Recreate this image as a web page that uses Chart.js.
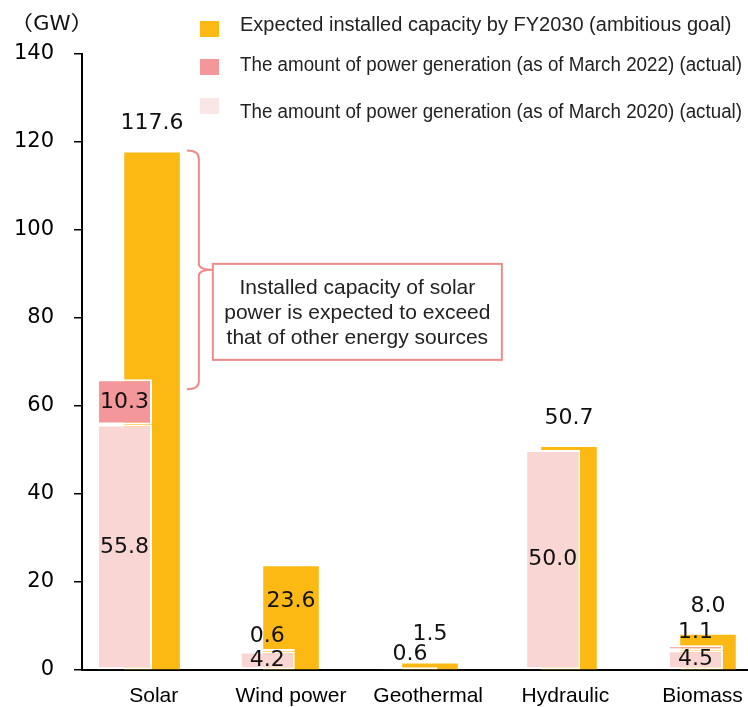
<!DOCTYPE html>
<html>
<head>
<meta charset="utf-8">
<script src="https://cdn.jsdelivr.net/npm/chart.js@4/dist/chart.umd.min.js"></script>
<style>
html,body{margin:0;padding:0;background:#fff;}
#wrap{width:748px;height:707px;position:relative;}
</style>
</head>
<body>
<div id="wrap"><canvas id="c"></canvas></div>
<script>
// ---- data ----
const categories = ['Solar', 'Wind power', 'Geothermal', 'Hydraulic', 'Biomass'];
const fy2030Goal = [117.6, 23.6, 1.5, 50.7, 8.0];
const actualMar2020 = [55.8, 4.2, 0.6, 50.0, 4.5];
const increaseMar2022 = [10.3, 0.6, null, null, 1.1];
const yTickValues = [0, 20, 40, 60, 80, 100, 120, 140];
const goalLabel = 'Expected installed capacity by FY2030 (ambitious goal)';
const mar2022Label = 'The amount of power generation (as of March 2022) (actual)';
const mar2020Label = 'The amount of power generation (as of March 2020) (actual)';
const unitLabel = '（GW）';
const noteLines = ['Installed capacity of solar', 'power is expected to exceed', 'that of other energy sources'];

// ---- styles ----
const COLOR_GOAL = '#FDB913';
const COLOR_2022 = '#F3979A';
const COLOR_2020 = '#F9D5D4';
const NOTE_COLOR = '#EE8B8B';

const toPoints = arr => arr.map((v, i) => ({ x: i, y: v }));
const categoryTicks = s => { s.ticks = categories.map((_, i) => ({ value: i })); };

const overlayPlugin = {
  id: 'overlay',
  afterDatasetsDraw(chart) {
    const ctx = chart.ctx;
    ctx.save();
    // data labels
    ctx.font = '22px "DejaVu Sans"';
    ctx.fillStyle = '#111';
    ctx.textAlign = 'center';
    ctx.textBaseline = 'middle';
    chart.data.datasets.forEach((ds, di) => {
      const meta = chart.getDatasetMeta(di);
      meta.data.forEach((el, j) => {
        const v = ds.data[j].y;
        if (v === null || v === undefined) return;
        const txt = v.toFixed(1);
        let y;
        if (ds.stack === 'goal') {
          y = ds.insideLabels.includes(categories[j]) ? el.y + 35 : el.y - 29;
        } else {
          const h = el.base - el.y;
          y = h < 15 ? el.y - 13 : (el.y + el.base) / 2;
        }
        ctx.fillText(txt, el.x, y);
      });
    });

    // brace + note box, anchored to the solar bars
    const goalEl = chart.getDatasetMeta(2).data[0];
    const stackTop = chart.getDatasetMeta(1).data[0];
    const x0 = goalEl.x + goalEl.width / 2 + 7;
    const xm = x0 + 12;
    const xt = xm + 14;
    const top = goalEl.y - 2;
    const bottom = stackTop.y + 10;
    const mid = (top + bottom) / 2;
    ctx.strokeStyle = NOTE_COLOR;
    ctx.lineWidth = 2;
    ctx.beginPath();
    ctx.moveTo(x0, top);
    ctx.quadraticCurveTo(xm, top, xm, top + 8);
    ctx.lineTo(xm, mid - 6);
    ctx.quadraticCurveTo(xm, mid, xt, mid);
    ctx.quadraticCurveTo(xm, mid, xm, mid + 6);
    ctx.lineTo(xm, bottom - 8);
    ctx.quadraticCurveTo(xm, bottom, x0, bottom);
    ctx.stroke();

    const bx = xt, by = mid - 6, bw = 289, bh = 96;
    ctx.fillStyle = '#fff';
    ctx.fillRect(bx, by, bw, bh);
    ctx.strokeRect(bx, by, bw, bh);
    ctx.fillStyle = '#222';
    ctx.font = '21px "Liberation Sans", Arial, sans-serif';
    noteLines.forEach((t, k) => ctx.fillText(t, bx + bw / 2, by + 24 + k * 25));

    // legend
    const legendRows = [
      { ds: 2, sq: 21, ty: 25 },
      { ds: 1, sq: 59, ty: 65 },
      { ds: 0, sq: 98, ty: 112 }
    ];
    ctx.font = '20px "Liberation Sans", Arial, sans-serif';
    ctx.textAlign = 'left';
    legendRows.forEach(r => {
      const ds = chart.data.datasets[r.ds];
      ctx.fillStyle = ds.legendColor || ds.backgroundColor;
      ctx.fillRect(200, r.sq, 19, 16);
      ctx.fillStyle = '#222';
      ctx.fillText(ds.label, 240, r.ty, 502);
    });

    // unit (slightly widened, like the original)
    ctx.font = '20px "Noto Sans CJK JP", sans-serif';
    ctx.fillStyle = '#111';
    ctx.translate(9, 22);
    ctx.scale(1.2, 1);
    ctx.fillText(unitLabel, 0, 0);
    ctx.restore();
  }
};

new Chart(document.getElementById('c'), {
  type: 'bar',
  data: {
    datasets: [
      {
        label: mar2020Label,
        data: toPoints(actualMar2020),
        xAxisID: 'xa',
        stack: 'actual',
        order: 0,
        grouped: false,
        backgroundColor: COLOR_2020,
        legendColor: '#FBE6E6',
        borderColor: '#fff',
        borderWidth: 2,
        borderSkipped: false,
        barPercentage: 0.385,
        categoryPercentage: 1
      },
      {
        label: mar2022Label,
        data: toPoints(increaseMar2022),
        xAxisID: 'xa',
        stack: 'actual',
        order: 1,
        grouped: false,
        backgroundColor: COLOR_2022,
        borderColor: '#fff',
        borderWidth: 2,
        borderSkipped: false,
        barPercentage: 0.385,
        categoryPercentage: 1
      },
      {
        label: goalLabel,
        data: toPoints(fy2030Goal),
        xAxisID: 'x',
        stack: 'goal',
        order: 2,
        grouped: false,
        backgroundColor: COLOR_GOAL,
        borderWidth: 0,
        barPercentage: 0.40,
        categoryPercentage: 1,
        insideLabels: ['Wind power']
      }
    ]
  },
  options: {
    responsive: true,
    maintainAspectRatio: false,
    animation: false,
    devicePixelRatio: 1,
    layout: { padding: { top: 54, left: 0, right: 0, bottom: 0 } },
    plugins: { legend: { display: false }, tooltip: { enabled: false } },
    scales: {
      // category label axis (visible)
      xl: {
        type: 'linear',
        position: 'bottom',
        offset: false,
        min: -0.523,
        max: 4.331,
        grid: { display: false, drawTicks: false, offset: false },
        border: { display: true, color: '#000', width: 2 },
        ticks: {
          autoSkip: false,
          maxRotation: 0,
          padding: 14,
          color: '#000',
          font: { family: '"Liberation Sans", Arial, sans-serif', size: 21 },
          callback: v => categories[v]
        },
        afterBuildTicks: categoryTicks,
        afterFit: s => { s.height = 37; s.paddingLeft = 0; s.paddingRight = 0; }
      },
      // FY2030 goal bars
      x: {
        type: 'linear',
        display: false,
        offset: false,
        min: -0.504,
        max: 4.288,
        afterBuildTicks: categoryTicks
      },
      // actual (2020 + 2022) bars
      xa: {
        type: 'linear',
        display: false,
        offset: false,
        min: -0.298,
        max: 4.368,
        afterBuildTicks: categoryTicks
      },
      y: {
        stacked: true,
        min: 0,
        max: 140,
        ticks: {
          stepSize: 20,
          padding: 20,
          color: '#000',
          font: { family: '"DejaVu Sans", sans-serif', size: 21 }
        },
        afterBuildTicks: s => { s.ticks = yTickValues.map(v => ({ value: v })); },
        grid: { drawOnChartArea: false, drawTicks: true, tickLength: 8, color: '#000', lineWidth: 1.5 },
        border: { display: true, color: '#000', width: 2 },
        afterFit: s => { s.width = 82; }
      }
    }
  },
  plugins: [overlayPlugin]
});
</script>
</body>
</html>
